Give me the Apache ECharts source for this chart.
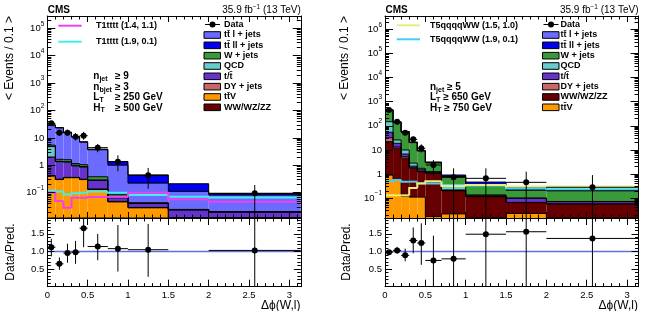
<!DOCTYPE html>
<html><head><meta charset="utf-8">
<script src="https://cdn.jsdelivr.net/npm/echarts@6.0.0/dist/echarts.min.js"></script>
<style>html,body{margin:0;padding:0;background:#fff;}#chart{width:647px;height:311px;}</style>
</head><body><div id="chart"></div>
<script>
const PI = Math.PI;
// ================= LEFT PANEL (T1tttt selection) =================
const left_edges = [0, 0.1, 0.2, 0.3, 0.4, 0.5, 0.75, 1.0, 1.5, 2.0, PI];
// per-bin expected events / 0.1
const left_WW   = [0.002, 0.001, 0.001, 0.001, 0.001, 0.001, 0.001, 0.001, 0.001, 0.001];
const left_ttV  = [0.40, 0.30, 0.35, 0.35, 0.30, 0.13, 0.045, 0.027, 0.004, 0.003];
const left_DY   = [0.02, 0.01, 0.01, 0.01, 0.01, 0.005, 0.002, 0.001, 0.0005, 0.0005];
const left_st   = [1.58, 1.04, 0.94, 0.59, 0.54, 0.145, 0.017, 0.011, 0.018, 0.015];
const left_QCD  = [2.8, 0.05, 0.05, 0.05, 0.05, 0.01, 0.001, 0.001, 0, 0];
const left_W    = [0.6, 0.25, 0.25, 0.15, 0.15, 0.09, 0.018, 0.002, 0.001, 0.001];
const left_ttl  = [23.6, 21.4, 14.1, 9.6, 5.9, 3.3, 0.92, 0.18, 0.087, 0.061];
const left_ttll = [1.0, 0.8, 0.5, 0.4, 0.3, 0.2, 0.35, 0.22, 0.10, 0.012];
const left_sigA = [0.1, 0.05, 0.028, 0.065, 0.065, 0.07, 0.07, 0.1, 0.057, 0.047];   // T1tttt (1.4, 1.1)
const left_sigB = [0.12, 0.11, 0.085, 0.095, 0.1, 0.11, 0.1, 0.083, 0.071, 0.066];  // T1tttt (1.9, 0.1)
const left_dataBins = [0, 1, 2, 3, 4, 5, 6, 7, 9];
const left_data   = [34, 15.5, 15.5, 11, 12, 4.4, 1.35, 0.43, 0.095];
const left_dataLo = [28, 12, 12, 8, 8.5, 3.0, 0.6, 0.14, 0.005];
const left_dataHi = [41, 20, 20, 15, 16.5, 6.0, 2.3, 0.8, 0.19];
const left_ratio   = [1.12, 0.65, 0.955, 0.98, 1.66, 1.14, 1.08, 1.05, 1.03];
const left_ratioLo = [0.86, 0.48, 0.68, 0.65, 1.12, 0.75, 0.43, 0.28, 0];
const left_ratioHi = [1.36, 0.83, 1.22, 1.3, 1.95, 1.5, 1.75, 1.78, 1.95];

// ================= RIGHT PANEL (T5qqqqWW selection) =================
const right_edges = [0, 0.1, 0.2, 0.3, 0.4, 0.5, 0.7, 1.0, 1.5, 2.0, PI];
const right_ttV  = [0.9, 0.56, 0.12, 0.11, 0.11, 0.017, 0.022, 0, 0.023, 0];
const right_WW   = [21, 11.1, 4.4, 1.61, 1.14, 1.05, 0.18, 0.115, 0.042, 0.057];
const right_DY   = [10, 1.5, 0.7, 0.1, 0.05, 0.03, 0.005, 0.001, 0.001, 0.0005];
const right_st   = [22, 5.6, 1.5, 0.3, 0.2, 0.1, 0.01, 0.01, 0.032, 0.013];
const right_QCD  = [94, 7, 3.2, 0.7, 0.22, 0.05, 0.09, 0.009, 0.002, 0.002];
const right_W    = [300, 112, 45, 17.2, 7.3, 1.65, 0.45, 0.196, 0.11, 0.128];
const right_ttl  = [10, 3.2, 1.5, 0.5, 0.2, 0.1, 0.03, 0.02, 0.02, 0.005];
const right_ttll = [7, 3, 1.5, 0.5, 0.2, 0.15, 0.12, 0.11, 0.06, 0.01];
const right_sigA = [0.13, 0.13, 0.13, 0.26, 0.4, 0.5, 0.32, 0.35, 0.3, 0.3];   // T5qqqqWW (1.5, 1.0)
const right_sigB = [0.5, 0.56, 0.48, 0.48, 0.41, 0.4, 0.35, 0.33, 0.25, 0.23]; // T5qqqqWW (1.9, 0.1)
const right_dataBins = [0, 1, 2, 3, 4, 5, 6, 7, 8, 9];
const right_data   = [455, 148, 52, 27.5, 11.6, 2.36, 0.73, 0.66, 0.45, 0.28];
const right_dataLo = [420, 128, 44, 21, 7.8, 0.77, 0.005, 0.005, 0.005, 0.005];
const right_dataHi = [495, 170, 62, 35, 17, 3.8, 1.72, 1.72, 1.25, 0.9];
const right_ratio   = [0.98, 1.03, 0.89, 1.31, 1.24, 0.745, 0.79, 1.49, 1.56, 1.37];
const right_ratioLo = [0.93, 0.94, 0.72, 0.95, 0.62, 0, 0, 0, 0, 0];
const right_ratioHi = [1.04, 1.13, 1.08, 1.68, 1.8, 1.45, 1.95, 1.95, 1.95, 1.95];

// tick labels
const xMajorTicks = [0, 0.5, 1, 1.5, 2, 2.5, 3];
const ratioTicks = [0.5, 1.0, 1.5];
const left_logTicks = [0.1, 1, 10, 100, 1e3, 1e4, 1e5];
const right_logTicks = [0.1, 1, 10, 100, 1e3, 1e4, 1e5, 1e6];

// ================= styling =================
const FF = '"Liberation Sans", Arial, Helvetica, sans-serif';
const C = {WW:'#660000', ttV:'#ff9900', DY:'#cc6666', st:'#6633cc', QCD:'#66cccc', W:'#3a9a3a', ttl:'#6b6bff', ttll:'#0000ee'};
const NAMES = {ttl:'tt\u0304 l + jets', ttll:'tt\u0304 ll + jets', W:'W + jets', QCD:'QCD', st:'t/t\u0304', DY:'DY + jets', ttV:'tt\u0304V', WW:'WW/WZ/ZZ'};

const xMinorTicks = []; for (let k = 1; k <= 31; k++) if (k % 5) xMinorTicks.push(k / 10);
const ratioMinor = []; for (let k = 1; k <= 19; k++) if (k % 5) ratioMinor.push(k / 10);
function logMinor(lo, hi) { const out = []; for (let e = -3; e <= 7; e++) for (let m = 2; m <= 9; m++) { const v = m * Math.pow(10, e); if (v > lo && v < hi) out.push(v); } return out; }

const grids = [
  {left: 47.3, top: 16, width: 253.5, height: 202},
  {left: 47.3, top: 218, width: 253.5, height: 68.7},
  {left: 385, top: 16, width: 253.5, height: 202},
  {left: 385, top: 218, width: 253.5, height: 68.7}
];
const xAxes = [], yAxes = [], series = [];

const logFmt = v => { const e = Math.round(Math.log10(v)); if (e === 0) return '{b|1}'; if (e === 1) return '{b|10}'; return '{b|10}{s|' + (e < 0 ? '\u2212' : '') + Math.abs(e) + '}'; };
const labRich = {b: {fontSize: 9.5, fontFamily: FF, color: '#000', lineHeight: 16, verticalAlign: 'middle'},
                 s: {fontSize: 6.5, fontFamily: FF, color: '#000', lineHeight: 8, verticalAlign: 'top'}};

function addX(gi, pos, ticks, len, labels, line) {
  xAxes.push({type: 'value', gridIndex: gi, position: pos, min: 0, max: PI, z: 10,
    axisLine: {show: line, onZero: false, lineStyle: {color: '#000', width: 1}},
    axisTick: {show: true, inside: true, length: len, customValues: ticks, lineStyle: {color: '#000', width: 1}},
    axisLabel: labels ? {show: true, customValues: xMajorTicks, formatter: v => String(v), margin: 4,
      fontSize: 9.5, fontFamily: FF, color: '#000'} : {show: false},
    splitLine: {show: false}});
  return xAxes.length - 1;
}
function addY(gi, pos, type, min, max, ticks, len, label, line) {
  yAxes.push({type: type, gridIndex: gi, position: pos, min: min, max: max, z: 10,
    axisLine: {show: line, onZero: false, lineStyle: {color: '#000', width: 1}},
    axisTick: {show: true, inside: true, length: len, customValues: ticks, lineStyle: {color: '#000', width: 1}},
    axisLabel: label ? Object.assign({show: true, margin: 3}, label) : {show: false},
    splitLine: {show: false}});
  return yAxes.length - 1;
}
function panelAxes(gi, xlabels, ytype, ymin, ymax, yMaj, yMin, ylab, ylen) {
  const xi = addX(gi, 'bottom', xMajorTicks, xlabels ? 7 : 6, xlabels, true);
  addX(gi, 'bottom', xMinorTicks, 3.5, false, false);
  addX(gi, 'top', xMajorTicks, xlabels ? 7 : 6, false, true);
  addX(gi, 'top', xMinorTicks, 3.5, false, false);
  const yi = addY(gi, 'left', ytype, ymin, ymax, yMaj, ylen, ylab, true);
  addY(gi, 'left', ytype, ymin, ymax, yMin, ylen / 2, null, false);
  addY(gi, 'right', ytype, ymin, ymax, yMaj, ylen, null, true);
  addY(gi, 'right', ytype, ymin, ymax, yMin, ylen / 2, null, false);
  return [xi, yi];
}

function addStack(xi, yi, edges, layers, ymin) {
  let run = layers[0].vals.map(() => 0);
  const cum = layers.map(l => { const lo = run.slice(); run = run.map((v, i) => v + l.vals[i]); return {lo: lo, hi: run.slice(), color: l.color}; });
  cum.forEach(c => series.push({type: 'custom', xAxisIndex: xi, yAxisIndex: yi, clip: true, z: 2, silent: true,
    data: c.hi.map((h, i) => [edges[i], edges[i + 1], c.lo[i], h]),
    renderItem: (p, api) => {
      const x0 = api.value(0), x1 = api.value(1), lo = Math.max(api.value(2), ymin), hi = api.value(3);
      if (!(hi > lo)) return null;
      const a = api.coord([x0, hi]), b = api.coord([x1, lo]);
      return {type: 'rect', shape: {x: a[0], y: a[1], width: b[0] - a[0], height: b[1] - a[1]}, style: {fill: c.color}};
    }}));
  cum.forEach(c => series.push({type: 'custom', xAxisIndex: xi, yAxisIndex: yi, clip: true, z: 3, silent: true,
    data: c.hi.map((h, i) => [edges[i], edges[i + 1], i > 0 ? c.hi[i - 1] : ymin, h]),
    renderItem: (p, api) => {
      const x0 = api.value(0), x1 = api.value(1), pv = Math.max(api.value(2), ymin), t = Math.max(api.value(3), ymin);
      return {type: 'polyline', shape: {points: [api.coord([x0, pv]), api.coord([x0, t]), api.coord([x1, t])]},
        style: {stroke: '#000', lineWidth: 1, fill: null}};
    }}));
}
function addSignal(xi, yi, edges, vals, color) {
  series.push({type: 'custom', xAxisIndex: xi, yAxisIndex: yi, clip: true, z: 4, silent: true,
    data: vals.map((v, i) => [edges[i], edges[i + 1], i > 0 ? vals[i - 1] : v, v]),
    renderItem: (p, api) => ({type: 'polyline', shape: {points: [api.coord([api.value(0), api.value(2)]),
      api.coord([api.value(0), api.value(3)]), api.coord([api.value(1), api.value(3)])]},
      style: {stroke: color, lineWidth: 2, fill: null}})});
}
function addPoints(xi, yi, edges, bins, vals, lo, hi, ymin) {
  series.push({type: 'custom', xAxisIndex: xi, yAxisIndex: yi, clip: true, z: 6, silent: true,
    data: bins.map((b, i) => [(edges[b] + edges[b + 1]) / 2, vals[i], lo[i], hi[i], edges[b], edges[b + 1]]),
    renderItem: (p, api) => {
      const xc = api.value(0), v = api.value(1), l = Math.max(api.value(2), ymin), h = api.value(3);
      const c = api.coord([xc, v]), L = api.coord([xc, l]), H = api.coord([xc, h]);
      const A = api.coord([api.value(4), v]), B = api.coord([api.value(5), v]);
      return {type: 'group', children: [
        {type: 'line', shape: {x1: L[0], y1: L[1], x2: H[0], y2: H[1]}, style: {stroke: '#000', lineWidth: 1}},
        {type: 'line', shape: {x1: A[0], y1: A[1], x2: B[0], y2: B[1]}, style: {stroke: '#000', lineWidth: 1}},
        {type: 'circle', shape: {cx: c[0], cy: c[1], r: 3}, style: {fill: '#000'}}]};
    }});
}
function addUnity(xi, yi) {
  series.push({type: 'line', xAxisIndex: xi, yAxisIndex: yi, data: [[0, 1], [PI, 1]], symbol: 'none', silent: true, z: 5,
    lineStyle: {color: '#6070d8', width: 1.5}});
}

const ratioLabel = {customValues: ratioTicks, formatter: v => v.toFixed(1), fontSize: 9.5, fontFamily: FF, color: '#000'};

// ---- left ----
const LMIN = 0.0119, LMAX = 2.81e5;
let [lx, ly] = panelAxes(0, false, 'log', LMIN, LMAX, left_logTicks, logMinor(LMIN, LMAX),
  {customValues: left_logTicks, formatter: logFmt, rich: labRich}, 8);
addStack(lx, ly, left_edges, [
  {vals: left_WW, color: C.WW}, {vals: left_ttV, color: C.ttV}, {vals: left_DY, color: C.DY}, {vals: left_st, color: C.st},
  {vals: left_QCD, color: C.QCD}, {vals: left_W, color: C.W}, {vals: left_ttl, color: C.ttl}, {vals: left_ttll, color: C.ttll}], LMIN);
addSignal(lx, ly, left_edges, left_sigB, '#3ff0f0');
addSignal(lx, ly, left_edges, left_sigA, '#f040f0');
addPoints(lx, ly, left_edges, left_dataBins, left_data, left_dataLo, left_dataHi, LMIN);
let [lrx, lry] = panelAxes(1, true, 'value', 0, 1.95, ratioTicks, ratioMinor, ratioLabel, 7);
addUnity(lrx, lry);
addPoints(lrx, lry, left_edges, left_dataBins, left_ratio, left_ratioLo, left_ratioHi, 0);

// ---- right ----
const RMIN = 0.0149, RMAX = 3.6e6;
let [rx, ry] = panelAxes(2, false, 'log', RMIN, RMAX, right_logTicks, logMinor(RMIN, RMAX),
  {customValues: right_logTicks, formatter: logFmt, rich: labRich}, 8);
addStack(rx, ry, right_edges, [
  {vals: right_ttV, color: C.ttV}, {vals: right_WW, color: C.WW}, {vals: right_DY, color: C.DY}, {vals: right_st, color: C.st},
  {vals: right_QCD, color: C.QCD}, {vals: right_W, color: C.W}, {vals: right_ttl, color: C.ttl}, {vals: right_ttll, color: C.ttll}], RMIN);
addSignal(rx, ry, right_edges, right_sigB, '#40d0f0');
addSignal(rx, ry, right_edges, right_sigA, '#e8f07a');
addPoints(rx, ry, right_edges, right_dataBins, right_data, right_dataLo, right_dataHi, RMIN);
let [rrx, rry] = panelAxes(3, true, 'value', 0, 1.95, ratioTicks, ratioMinor, ratioLabel, 7);
addUnity(rrx, rry);
addPoints(rrx, rry, right_edges, right_dataBins, right_ratio, right_ratioLo, right_ratioHi, 0);

// ================= texts / legends =================
const subRich = {s: {fontSize: 7, fontFamily: FF, fontWeight: 'bold', lineHeight: 7, verticalAlign: 'bottom'}};
function T(x, y, text, o) {
  return {type: 'text', x: x, y: y, z: 100, silent: true,
    style: Object.assign({text: text, fill: '#000', fontFamily: FF, fontSize: 9, fontWeight: 'bold', align: 'left', verticalAlign: 'middle'}, o || {})};
}
const G = [];
function header(x0, x1) {
  G.push(T(x0 + 0.5, 10.3, 'CMS', {fontSize: 10}));
  G.push(T(x1, 10.5, '35.9 fb{s|\u22121} (13 TeV)', {fontSize: 10, fontWeight: 'normal', align: 'right', lineHeight: 14,
    rich: {s: {fontSize: 6.5, fontFamily: FF, lineHeight: 7, verticalAlign: 'top'}}}));
}
header(47.3, 300.8); header(385, 638.5);
function titles(xEv, xRat, xEnd) {
  G.push(Object.assign(T(xEv, 16, '< Events / 0.1 >', {fontSize: 12, fontWeight: 'normal', align: 'right'}), {rotation: PI / 2}));
  G.push(Object.assign(T(xRat, 252, 'Data/Pred.', {fontSize: 12, fontWeight: 'normal', align: 'center'}), {rotation: PI / 2}));
  G.push(T(xEnd, 306, '\u0394\u03d5(W,l)', {fontSize: 12, fontWeight: 'normal', align: 'right'}));
}
titles(10, 11, 300.5); titles(345, 347, 638);
function legend(xb, xt, keys) {
  const yD = 24.5;
  G.push({type: 'line', z: 100, shape: {x1: xb + 1, y1: yD, x2: xb + 16, y2: yD}, style: {stroke: '#000', lineWidth: 1}});
  G.push({type: 'circle', z: 100, shape: {cx: xb + 8.5, cy: yD, r: 3}, style: {fill: '#000'}});
  G.push(T(xt, yD, 'Data'));
  keys.forEach((k, i) => {
    const y = 35 + i * 10.33;
    G.push({type: 'rect', z: 100, shape: {x: xb, y: y - 3.3, width: 16.5, height: 6.6}, style: {fill: C[k], stroke: '#000', lineWidth: 1}});
    G.push(T(xt, y, NAMES[k]));
  });
}
legend(204, 224, ['ttl', 'ttll', 'W', 'QCD', 'st', 'DY', 'ttV', 'WW']);
legend(542.5, 560.5, ['ttl', 'ttll', 'W', 'QCD', 'st', 'DY', 'WW', 'ttV']);
function sigLegend(x0, x1, xt, y, color, text) {
  G.push({type: 'line', z: 100, shape: {x1: x0, y1: y, x2: x1, y2: y}, style: {stroke: color, lineWidth: 2}});
  G.push(T(xt, y, text));
}
sigLegend(58.3, 81.7, 96, 25.7, '#f040f0', 'T1tttt (1.4, 1.1)');
sigLegend(58.3, 81.7, 96, 41.7, '#3ff0f0', 'T1tttt (1.9, 0.1)');
sigLegend(396.7, 420, 430, 25.3, '#e8f07a', 'T5qqqqWW (1.5, 1.0)');
sigLegend(396.7, 420, 430, 39.3, '#40d0f0', 'T5qqqqWW (1.9, 0.1)');
// selection cuts
const cutL = [['n{s|jet}', '\u2265 9', 76.7], ['n{s|bjet}', '\u2265 3', 87.2], ['L{s|T}', '\u2265 250 GeV', 97.5], ['H{s|T}', '\u2265 500 GeV', 107.8]];
cutL.forEach(c => { G.push(T(93.3, c[2], c[0], {fontSize: 10, lineHeight: 12, rich: subRich})); G.push(T(115, c[2], c[1], {fontSize: 10})); });
const cutR = [['n{s|jet} \u2265 5', 87.2], ['L{s|T} \u2265 650 GeV', 97.5], ['H{s|T} \u2265 750 GeV', 107.8]];
cutR.forEach(c => G.push(T(430, c[1], c[0], {fontSize: 10, lineHeight: 12, rich: subRich})));

const chart = echarts.init(document.getElementById('chart'), null, {renderer: 'canvas'});
chart.setOption({
  animation: false,
  backgroundColor: '#fff',
  grid: grids.map(g => Object.assign({show: false, containLabel: false}, g)),
  xAxis: xAxes, yAxis: yAxes, series: series, graphic: G
});
</script></body></html>
